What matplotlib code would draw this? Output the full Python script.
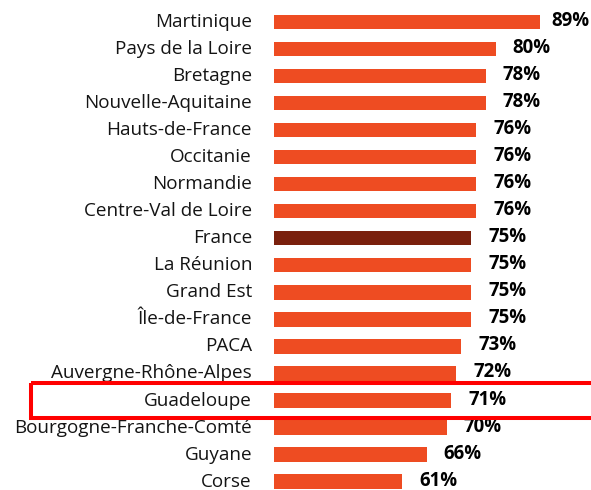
import matplotlib
matplotlib.use("Agg")
import matplotlib.pyplot as plt
from matplotlib.patches import Rectangle
import matplotlib.transforms as mtransforms

regions = ["Martinique", "Pays de la Loire", "Bretagne", "Nouvelle-Aquitaine",
           "Hauts-de-France", "Occitanie", "Normandie", "Centre-Val de Loire",
           "France", "La Réunion", "Grand Est", "Île-de-France", "PACA",
           "Auvergne-Rhône-Alpes", "Guadeloupe", "Bourgogne-Franche-Comté",
           "Guyane", "Corse"]
values = [89, 80, 78, 78, 76, 76, 76, 76, 75, 75, 75, 75, 73, 72, 71, 70, 66, 61]
highlight_avg = "France"
highlight_box = "Guadeloupe"

plt.rcParams['font.family'] = ['Open Sans', 'DejaVu Sans']

W, H = 591, 490
fig = plt.figure(figsize=(W / 100, H / 100), dpi=100)
ax = fig.add_axes([274 / W, 0, 317 / W, 1])

orange = "#EE4C22"
dark = "#7A200D"
colors = [dark if r == highlight_avg else orange for r in regions]
ypos = list(range(len(regions)))
ax.barh(ypos, values, height=0.53, color=colors, edgecolor="none")

ax.set_xlim(35, 35 + 317 / 4.93)
ax.set_ylim(17.31, -0.814)
ax.axis("off")

# category labels
for y, r in zip(ypos, regions):
    ax.annotate(r, xy=(0, y), xycoords=("axes fraction", "data"),
                xytext=(-22, 0), textcoords="offset pixels",
                ha="right", va="center", fontsize=13.6, color="#141414")

# value labels
fig.canvas.draw()
renderer = fig.canvas.get_renderer()
right_px = ax.transAxes.transform((1, 0))[0]
for y, v in zip(ypos, values):
    t = ax.annotate(f"{v}%", xy=(v, y), xytext=(17, 1), textcoords="offset pixels",
                    ha="left", va="center", fontsize=13.4, fontweight="bold",
                    color="#000000")
    bb = t.get_window_extent(renderer)
    if bb.x1 > right_px - 1:
        t.set_position((-(bb.x1 - right_px + 1) + 17, 1))

# highlight box
trans = mtransforms.blended_transform_factory(fig.transFigure, ax.transData)
gi = regions.index(highlight_box)
rect = Rectangle((31 / W, gi - 0.63), 1.0, 1.26, transform=trans,
                 fill=False, edgecolor="#FF0000", linewidth=2.9, clip_on=False)
fig.patches.append(rect)

fig.savefig("out.png", dpi=100)
